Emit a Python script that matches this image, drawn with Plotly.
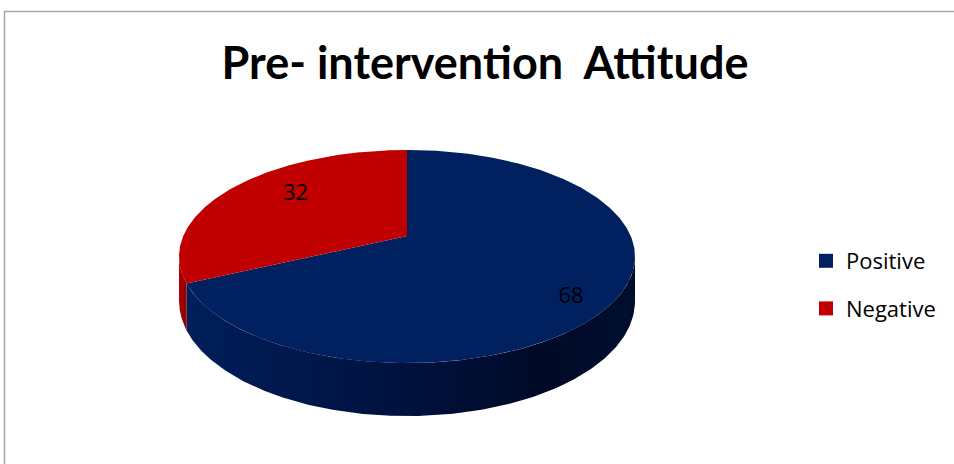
import numpy as np
import plotly.graph_objects as go

# ---- data ----
categories = ["Positive", "Negative"]
values = [68, 32]
title_text = "Pre- intervention  Attitude"

# ---- style ----
top_colors = ["#002060", "#C00000"]
side_scales = [
    [[0, "#001E5A"], [0.55, "#00103A"], [0.8, "#000A26"], [1, "#000E2E"]],
    [[0, "#B00000"], [1, "#8A0000"]],
]
label_r = [0.85, 0.70]
label_rot = 7.0

W, H = 954, 464
cx, cy = 407.0, 236.0      # projected centre of the pie top
a = 0.1925                 # perspective strength
B = 102.6                  # vertical scale
R = 228.0 * np.sqrt(1 - a * a)
D = 42.8                   # thickness


def proj(theta_deg, r=1.0, drop=0.0):
    t = np.radians(theta_deg)
    X = r * np.sin(t)
    Y = -r * np.cos(t)
    w = 1 - a * Y
    return cx + R * X / w, cy + B * Y / w + drop / w


total = float(sum(values))
bounds = np.concatenate([[0.0], np.cumsum(values) / total * 360.0])
vis_lo = np.degrees(np.arccos(-a))
vis_hi = 360.0 - vis_lo

fig = go.Figure()

# side walls
for i, cat in enumerate(categories):
    t0, t1 = bounds[i], bounds[i + 1]
    s0, s1 = max(t0, vis_lo), min(t1, vis_hi)
    if s1 <= s0:
        continue
    th = np.linspace(s0, s1, 200)
    xt, yt = proj(th)
    xb, yb = proj(th[::-1], drop=D)
    fig.add_trace(go.Scatter(
        x=np.concatenate([xt, xb]), y=np.concatenate([yt, yb]),
        mode="lines", line=dict(width=0), fill="toself",
        fillgradient=dict(type="horizontal", colorscale=side_scales[i]),
        hoverinfo="skip", showlegend=False))

# top faces
for i, cat in enumerate(categories):
    t0, t1 = bounds[i], bounds[i + 1]
    th = np.linspace(t0, t1, 300)
    xt, yt = proj(th)
    fig.add_trace(go.Scatter(
        x=np.concatenate([[cx], xt, [cx]]), y=np.concatenate([[cy], yt, [cy]]),
        mode="lines", line=dict(width=0, color=top_colors[i]), fill="toself",
        fillcolor=top_colors[i], name=cat, hoverinfo="name", showlegend=False))

# data labels
mids = (bounds[:-1] + bounds[1:]) / 2 + label_rot
lx, ly = proj(mids, r=np.array(label_r))
fig.add_trace(go.Scatter(
    x=lx, y=ly, mode="text", text=[str(v) for v in values],
    textfont=dict(family="Open Sans", size=22, color="black"),
    hoverinfo="skip", showlegend=False))

# legend entries
for i, cat in enumerate(categories):
    fig.add_trace(go.Scatter(
        x=[None], y=[None], mode="markers", name=cat, legendgroup=cat,
        marker=dict(symbol="square", size=14, color=top_colors[i])))

fig.update_layout(
    width=W, height=H,
    margin=dict(l=0, r=0, t=0, b=0),
    paper_bgcolor="white", plot_bgcolor="white",
    xaxis=dict(range=[0, W], visible=False, fixedrange=True),
    yaxis=dict(range=[H, 0], visible=False, fixedrange=True),
    title=dict(text="<b>" + title_text + "</b>", x=485 / W, xanchor="center",
               y=1 - 63 / H, yanchor="middle",
               font=dict(family="Lato", size=45, color="black")),
    legend=dict(x=806 / W, xanchor="left", y=1 - 240 / H, yanchor="top",
                traceorder="grouped", tracegroupgap=16,
                font=dict(family="Open Sans", size=22, color="black"),
                bgcolor="rgba(0,0,0,0)"),
    shapes=[dict(type="rect", xref="x", yref="y", x0=4.5, y0=11.5, x1=W + 10, y1=H + 10,
                 line=dict(color="#A6A6A6", width=1.5), fillcolor="rgba(0,0,0,0)",
                 layer="below")],
)

fig.write_html("out.html")
